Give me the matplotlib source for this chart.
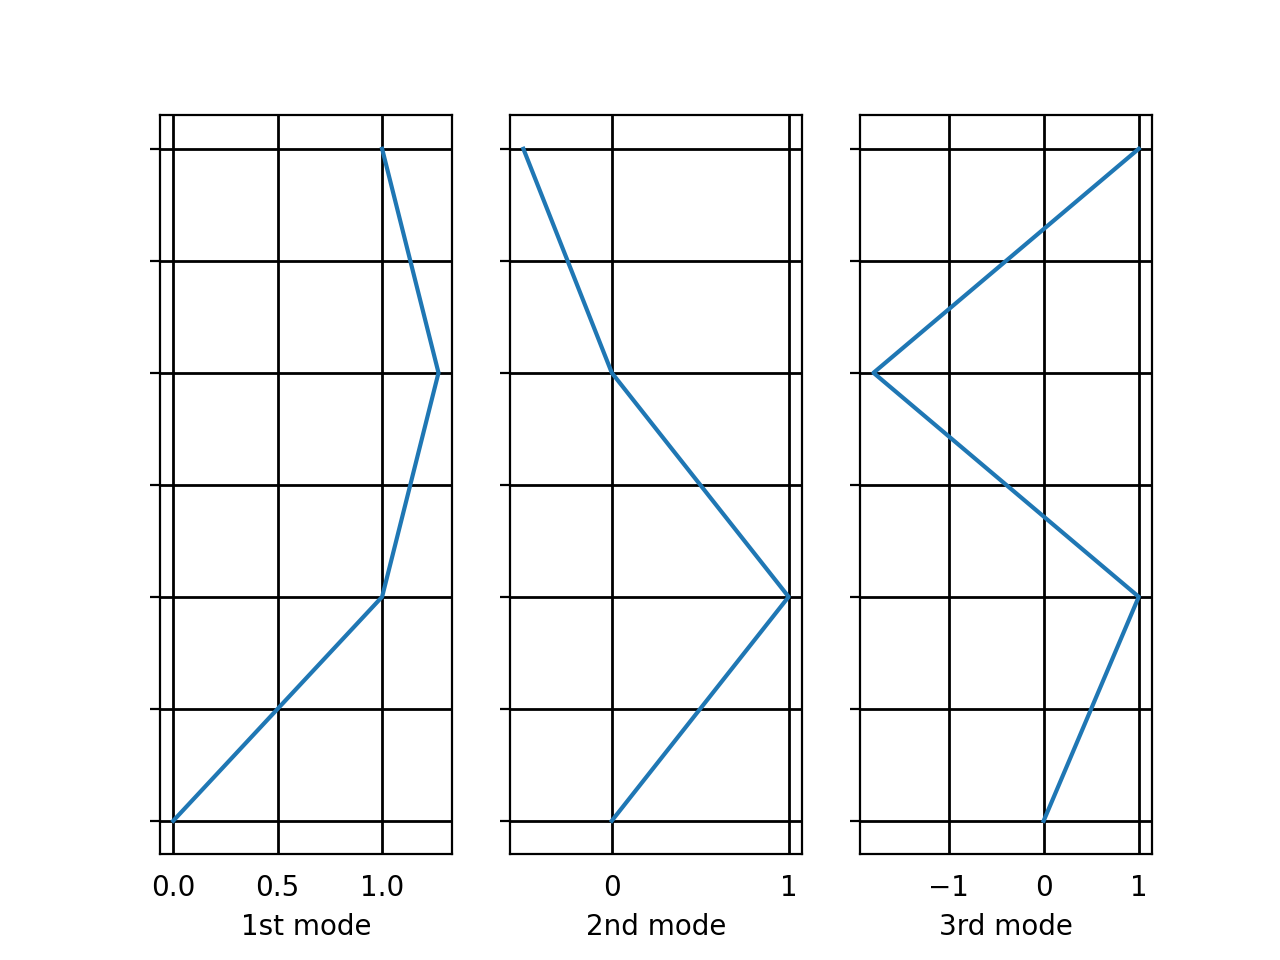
import matplotlib
matplotlib.use("Agg")
import matplotlib.pyplot as plt

# floor levels (y) and mode shapes (x)
levels = [0, 2, 4, 6]
mode_1 = [0.0, 1.0, 1.27, 1.0]
mode_2 = [0.0, 1.0, 0.0, -0.5]
mode_3 = [0.0, 1.0, -1.79, 1.0]

modes = [mode_1, mode_2, mode_3]
mode_names = ["1st mode", "2nd mode", "3rd mode"]
x_ticks = [[0.0, 0.5, 1.0], [0, 1], [-1, 0, 1]]
x_labels = [["0.0", "0.5", "1.0"], ["0", "1"], ["\u22121", "0", "1"]]
y_ticks = [0, 1, 2, 3, 4, 5, 6]

fig, axes = plt.subplots(1, 3, figsize=(6.4, 4.8), dpi=200)
for ax, shape, name, xt, xl in zip(axes, modes, mode_names, x_ticks, x_labels):
    ax.plot(shape, levels, color="#1f77b4")
    ax.set_xticks(xt)
    ax.set_xticklabels(xl)
    ax.set_yticks(y_ticks)
    ax.set_yticklabels([])
    ax.tick_params(axis="x", width=0)
    ax.grid(color="k", linewidth=1.0)
    ax.set_xlabel(name)

fig.savefig("out.png", dpi=200)
